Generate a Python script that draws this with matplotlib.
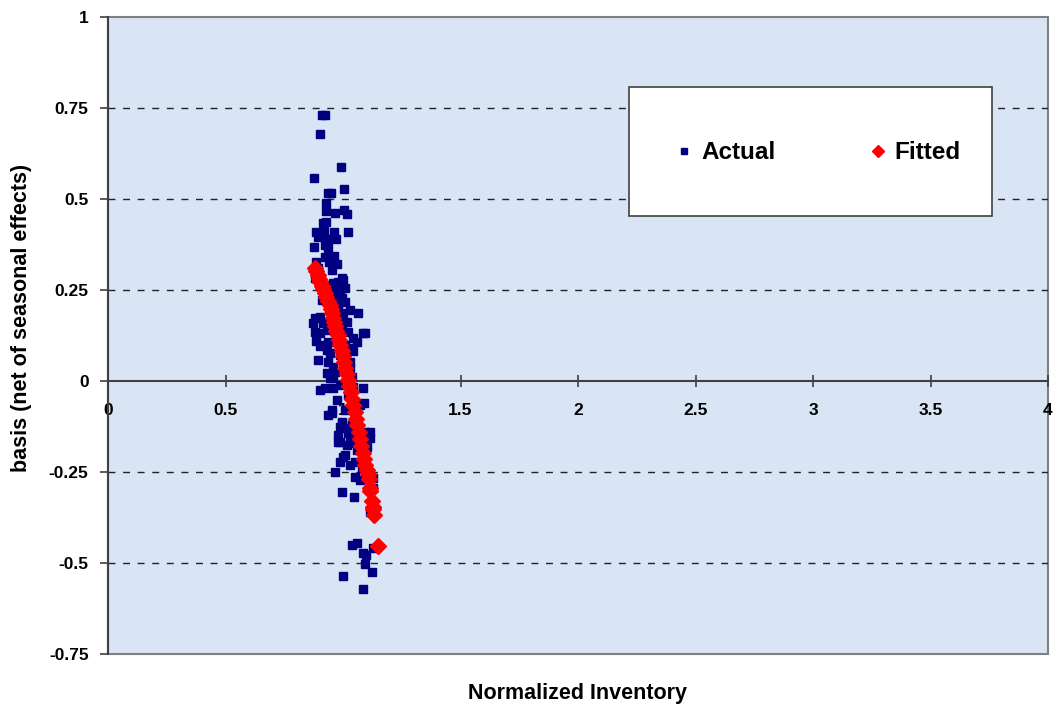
import matplotlib
matplotlib.use("Agg")
import matplotlib.pyplot as plt
from matplotlib.patches import Rectangle

# actual observations (normalized inventory, basis)
actual_x = [0.911, 0.923, 0.902, 0.991, 0.877, 1.004, 0.936, 0.949, 0.928, 0.928,
            0.966, 1.004, 1.017, 0.915, 0.928, 0.885, 0.906, 0.919, 0.962, 1.021,
            0.894, 0.932, 0.970, 0.877, 0.923, 0.936, 0.923, 0.962, 0.974, 0.953,
            0.881, 0.996, 0.957, 1.000, 0.974, 1.009, 0.987, 0.996, 1.009, 0.932,
            0.979, 1.030, 1.064, 1.000, 0.881, 0.902, 0.915, 1.017, 0.881, 0.902,
            0.932, 1.021, 1.085, 1.043, 0.911, 0.936, 1.060, 1.038, 0.932, 1.043,
            0.945, 0.894, 0.936, 1.030, 0.957, 1.030, 0.932, 0.966, 0.957, 1.038,
            0.945, 0.902, 0.923, 0.957, 1.043, 1.085, 0.974, 1.072, 0.953, 0.936,
            0.996, 0.987, 1.000, 1.030, 0.979, 1.030, 1.115, 1.115, 0.987, 1.017,
            1.043, 1.102, 1.021, 1.094, 1.009, 1.000, 0.987, 1.030, 1.051, 0.966,
            1.051, 1.128, 0.996, 1.047, 1.128, 1.115, 1.038, 1.060, 1.085, 1.098,
            1.094, 1.123, 1.000, 1.085, 1.128, 0.996, 0.979,
            0.945, 0.966, 0.979, 0.987, 0.996, 1.009, 0.987, 1.009, 0.987, 1.021,
            1.009, 1.051, 1.038, 1.060, 1.081, 1.072, 0.979, 0.911, 0.894, 0.885,
            0.940, 0.872, 0.885, 0.902, 1.094, 1.089, 0.953]
actual_y = [0.731, 0.731, 0.679, 0.588, 0.558, 0.527, 0.516, 0.516, 0.489, 0.467,
            0.462, 0.470, 0.459, 0.434, 0.437, 0.409, 0.407, 0.412, 0.409, 0.409,
            0.396, 0.390, 0.390, 0.368, 0.374, 0.365, 0.341, 0.343, 0.321, 0.305,
            0.283, 0.283, 0.269, 0.277, 0.255, 0.255, 0.242, 0.228, 0.217, 0.223,
            0.214, 0.195, 0.187, 0.187, 0.173, 0.176, 0.159, 0.162, 0.135, 0.132,
            0.140, 0.135, 0.132, 0.118, 0.099, 0.107, 0.107, 0.091, 0.085, 0.082,
            0.077, 0.058, 0.052, 0.052, 0.038, 0.036, 0.022, 0.025, 0.008, 0.011,
            0.008, -0.025, -0.019, -0.019, -0.016, -0.019, -0.052, -0.066, -0.080, -0.093,
            -0.113, -0.126, -0.129, -0.129, -0.148, -0.157, -0.140, -0.157, -0.168, -0.176,
            -0.170, -0.181, -0.143, -0.140, -0.203, -0.209, -0.223, -0.231, -0.223, -0.250,
            -0.264, -0.266, -0.305, -0.319, -0.294, -0.360, -0.451, -0.445, -0.473, -0.478,
            -0.503, -0.525, -0.536, -0.571, -0.459, -0.115, -0.168,
            0.264, 0.236, 0.195, 0.168, 0.140, 0.099, 0.071, 0.044, -0.011, -0.038,
            -0.080, -0.093, -0.121, -0.190, -0.239, -0.272, 0.272, 0.223, 0.310, 0.327,
            0.327, 0.160, 0.110, 0.096, 0.132, -0.060, -0.088]

# fitted values
fitted_x = [0.881, 0.886, 0.892, 0.898, 0.904, 0.910, 0.916, 0.923, 0.929, 0.936,
            0.943, 0.948, 0.953, 0.958, 0.962, 0.967, 0.972, 0.977, 0.983, 0.988,
            0.994, 1.000, 1.005, 1.010, 1.016, 1.021, 1.027, 1.032, 1.038, 1.043,
            1.049, 1.055, 1.060, 1.066, 1.072, 1.077, 1.083, 1.088, 1.094, 1.100,
            1.106, 1.111, 1.115, 1.117, 1.123, 1.126, 1.128, 1.132, 1.149]
fitted_y = [0.310, 0.302, 0.290, 0.280, 0.271, 0.262, 0.252, 0.243, 0.232, 0.220,
            0.209, 0.198, 0.186, 0.174, 0.163, 0.150, 0.138, 0.125, 0.112, 0.098,
            0.083, 0.068, 0.052, 0.037, 0.020, 0.004, -0.013, -0.031, -0.049, -0.066,
            -0.085, -0.104, -0.122, -0.141, -0.160, -0.178, -0.197, -0.215, -0.232, -0.245,
            -0.255, -0.268, -0.294, -0.302, -0.330, -0.345, -0.352, -0.368, -0.453]

x_ticks = [0, 0.5, 1, 1.5, 2, 2.5, 3, 3.5, 4]
x_tick_labels = ["0", "0.5", "1", "1.5", "2", "2.5", "3", "3.5", "4"]
y_ticks = [-0.75, -0.5, -0.25, 0, 0.25, 0.5, 0.75, 1]
y_tick_labels = ["-0.75", "-0.5", "-0.25", "0", "0.25", "0.5", "0.75", "1"]

plt.rcParams['font.family'] = ['Liberation Sans', 'DejaVu Sans']

W, H = 1058, 714
fig = plt.figure(figsize=(W / 100, H / 100), dpi=100)
ax = fig.add_axes([108 / W, 60 / H, 940 / W, 637 / H])
ax.set_facecolor('#d9e4f5')
ax.patch.set_edgecolor('#808080')
ax.patch.set_linewidth(1.5)

ax.set_xlim(0, 4)
ax.set_ylim(-0.75, 1)

ax.plot(actual_x, actual_y, linestyle='none', marker='s', markersize=5.4,
        color='#000080', label='Actual', zorder=3)
ax.plot(fitted_x, fitted_y, linestyle='none', marker='D', markersize=8.5,
        color='#ff0000', label='Fitted', zorder=4)

for s in ['top', 'right']:
    ax.spines[s].set_visible(False)
ax.spines['left'].set_color('#404040')
ax.spines['left'].set_linewidth(1.5)
ax.spines['bottom'].set_position(('data', 0))
ax.spines['bottom'].set_color('#404040')
ax.spines['bottom'].set_linewidth(1.5)

ax.set_yticks(y_ticks)
ax.set_yticklabels(y_tick_labels)
ax.set_xticks(x_ticks)
ax.set_xticklabels(x_tick_labels)
ax.tick_params(axis='y', direction='out', length=6, width=1.2, color='#404040',
               pad=8, labelsize=12.5)
ax.tick_params(axis='x', direction='inout', length=9, width=1.2, color='#404040',
               pad=11, labelsize=12.5)
for lab in ax.get_xticklabels() + ax.get_yticklabels():
    lab.set_fontweight('bold')

ax.yaxis.grid(True, linestyle=(0, (5, 5.5)), color='#222222', linewidth=1)
ax.set_axisbelow(True)
# no dashed line on the border rows or on the zero axis
for tick_val, gl in zip(y_ticks, ax.yaxis.get_gridlines()):
    if tick_val in (-0.75, 0, 1):
        gl.set_visible(False)

fig.text(578 / W, 1 - 693 / H, 'Normalized Inventory', ha='center', va='center',
         fontsize=15.5, fontweight='bold')
fig.text(22 / W, 1 - 318 / H, 'basis (net of seasonal effects)', ha='center',
         va='center', rotation=90, fontsize=15.5, fontweight='bold')

# legend box
box = Rectangle(((629 - 108) / 940, (654 - 216) / 637), 363 / 940, 129 / 637,
                transform=ax.transAxes, facecolor='white', edgecolor='#404040',
                linewidth=1.2, zorder=5)
ax.add_patch(box)
leg = ax.legend(loc='center', bbox_to_anchor=((819 - 108) / 940, (654 - 153) / 637),
                ncol=2, frameon=False, prop={'size': 17.5, 'weight': 'bold'},
                handlelength=0.6, handletextpad=0.4, columnspacing=3.9,
                borderpad=0, borderaxespad=0)
leg.set_zorder(6)
leg.legend_handles[0].set_markersize(5)
leg.legend_handles[1].set_markersize(6.5)

fig.savefig('out.png', dpi=100)
